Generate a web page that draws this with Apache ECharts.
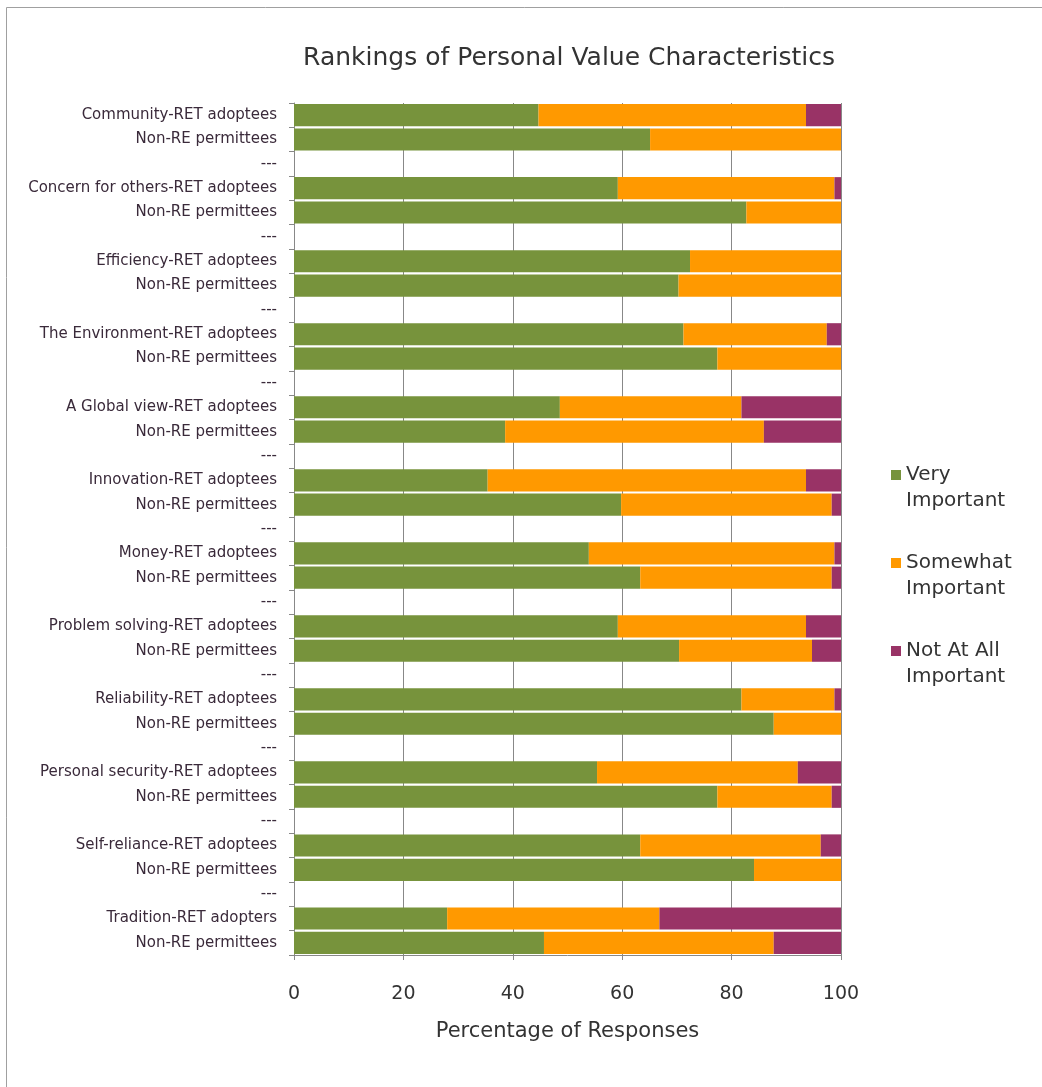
<!DOCTYPE html>
<html>
<head>
<meta charset="utf-8">
<script src="https://cdn.jsdelivr.net/npm/echarts@6/dist/echarts.min.js"></script>
<style>html,body{margin:0;padding:0;background:#fff;}#c{width:1042px;height:1087px;}</style>
</head>
<body>
<div id="c"></div>
<script>
var categories = [
  'Community-RET adoptees', 'Non-RE permittees', '---',
  'Concern for others-RET adoptees', 'Non-RE permittees', '---',
  'Efficiency-RET adoptees', 'Non-RE permittees', '---',
  'The Environment-RET adoptees', 'Non-RE permittees', '---',
  'A Global view-RET adoptees', 'Non-RE permittees', '---',
  'Innovation-RET adoptees', 'Non-RE permittees', '---',
  'Money-RET adoptees', 'Non-RE permittees', '---',
  'Problem solving-RET adoptees', 'Non-RE permittees', '---',
  'Reliability-RET adoptees', 'Non-RE permittees', '---',
  'Personal security-RET adoptees', 'Non-RE permittees', '---',
  'Self-reliance-RET adoptees', 'Non-RE permittees', '---',
  'Tradition-RET adopters', 'Non-RE permittees'
];
var veryImportant = [44.7, 65.1, null, 59.2, 82.7, null, 72.4, 70.3, null, 71.2, 77.4, null,
  48.6, 38.6, null, 35.4, 59.8, null, 53.9, 63.3, null, 59.2, 70.4, null,
  81.8, 87.7, null, 55.4, 77.4, null, 63.3, 84.1, null, 28.0, 45.7];
var somewhatImportant = [48.9, 34.9, null, 39.6, 17.3, null, 27.6, 29.7, null, 26.2, 22.6, null,
  33.2, 47.3, null, 58.2, 38.5, null, 44.9, 35.0, null, 34.4, 24.3, null,
  17.0, 12.3, null, 36.7, 20.9, null, 33.0, 15.9, null, 38.8, 42.0];
var notAtAllImportant = [6.4, 0, null, 1.2, 0, null, 0, 0, null, 2.6, 0, null,
  18.2, 14.1, null, 6.4, 1.7, null, 1.2, 1.7, null, 6.4, 5.3, null,
  1.2, 0, null, 7.9, 1.7, null, 3.7, 0, null, 33.2, 12.3];
var seriesNames = ['Very Important', 'Somewhat Important', 'Not At All Important'];
var legendLabels = {'Very Important': 'Very\nImportant', 'Somewhat Important': 'Somewhat\nImportant', 'Not At All Important': 'Not At All\nImportant'};
var colors = ['#77933C', '#FF9900', '#993366'];

var chart = echarts.init(document.getElementById('c'));
var font = 'DejaVu Sans';
function mk(name, data, color) {
  return {
    name: name, type: 'bar', stack: 'total', data: data,
    barCategoryGap: '9%',
    itemStyle: {color: color},
    animation: false
  };
}
chart.setOption({
  backgroundColor: '#fff',
  animation: false,
  title: {
    text: 'Rankings of Personal Value Characteristics',
    left: 564, textAlign: 'center', top: 41,
    textStyle: {fontFamily: font, fontSize: 25, fontWeight: 'normal', color: '#333'}
  },
  graphic: [{
    type: 'rect', shape: {x: 6.5, y: 7.5, width: 1100, height: 1100},
    style: {fill: 'none', stroke: '#a0a0a0', lineWidth: 1}, silent: true, z: -10
  }],
  legend: {
    orient: 'vertical', left: 886, top: 431,
    itemWidth: 10, itemHeight: 10, itemGap: 10,
    icon: 'rect',
    data: seriesNames,
    formatter: function (n) { return '\n' + legendLabels[n]; },
    textStyle: {fontFamily: font, fontSize: 20, color: '#333', lineHeight: 26}
  },
  grid: {left: 294, right: 201, top: 103, bottom: 132, containLabel: false},
  xAxis: {
    type: 'value', min: 0, max: 100, interval: 20,
    axisLine: {show: true, lineStyle: {color: '#888'}},
    axisTick: {show: true, length: 5, lineStyle: {color: '#888'}},
    splitLine: {show: true, lineStyle: {color: '#888', width: 1}},
    axisLabel: {fontFamily: font, fontSize: 19, color: '#333', margin: 30},
    name: 'Percentage of Responses', nameLocation: 'middle', nameGap: 66,
    nameTextStyle: {fontFamily: font, fontSize: 21, color: '#333'}
  },
  yAxis: {
    type: 'category', data: categories, inverse: true,
    axisLine: {show: true, lineStyle: {color: '#888'}},
    axisTick: {show: true, length: 5, lineStyle: {color: '#888'}},
    splitLine: {show: false},
    axisLabel: {fontFamily: font, fontSize: 15, color: '#3a2a3a', margin: 17, interval: 0}
  },
  series: [
    mk(seriesNames[0], veryImportant, colors[0]),
    mk(seriesNames[1], somewhatImportant, colors[1]),
    mk(seriesNames[2], notAtAllImportant, colors[2])
  ]
});
</script>
</body>
</html>
